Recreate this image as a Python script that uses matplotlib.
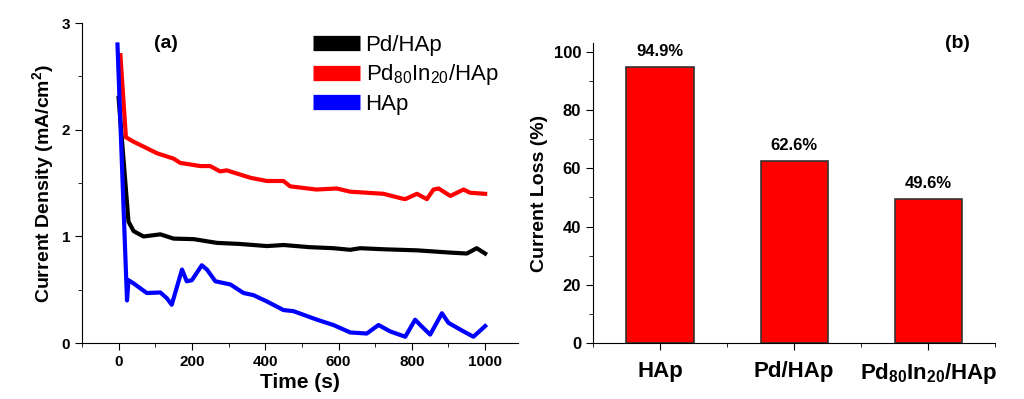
import numpy as np
import matplotlib
matplotlib.use("Agg")
import matplotlib.pyplot as plt
from matplotlib.ticker import MultipleLocator

plt.rcParams['font.family'] = ['Liberation Sans', 'DejaVu Sans']
plt.rcParams['mathtext.fontset'] = 'custom'
plt.rcParams['mathtext.rm'] = 'Liberation Sans'
plt.rcParams['mathtext.bf'] = 'Liberation Sans:bold'
plt.rcParams['mathtext.default'] = 'regular'

# (a) chronoamperometry curves
t_pd = [0, 27, 41, 68, 114, 150, 205, 268, 330, 405, 450, 520, 586, 632, 659, 723, 814, 900, 950, 977, 1000]
j_pd = [2.30, 1.14, 1.05, 1.00, 1.02, 0.98, 0.975, 0.94, 0.93, 0.91, 0.92, 0.90, 0.89, 0.875, 0.89, 0.88, 0.87, 0.85, 0.84, 0.89, 0.84]

t_pdin = [5, 20, 40, 105, 150, 168, 223, 250, 277, 295, 360, 405, 450, 468, 540, 595, 632, 677, 723, 768,
          782, 814, 841, 859, 873, 905, 941, 959, 1000]
j_pdin = [2.70, 1.93, 1.89, 1.78, 1.73, 1.69, 1.66, 1.66, 1.61, 1.62, 1.55, 1.52, 1.52, 1.47, 1.44, 1.45, 1.42,
          1.41, 1.40, 1.36, 1.35, 1.40, 1.35, 1.44, 1.45, 1.38, 1.44, 1.41, 1.40]

t_hap = [-3, 23, 27, 41, 77, 114, 132, 145, 173, 186, 200, 227, 241, 264, 305, 341, 368, 405, 450, 477, 541,
         586, 632, 677, 709, 741, 782, 809, 823, 850, 882, 900, 941, 968, 1000]
j_hap = [2.80, 0.40, 0.59, 0.56, 0.47, 0.475, 0.42, 0.36, 0.69, 0.58, 0.59, 0.73, 0.69, 0.58, 0.55, 0.47, 0.45,
         0.39, 0.31, 0.30, 0.22, 0.17, 0.10, 0.09, 0.17, 0.11, 0.06, 0.22, 0.17, 0.08, 0.28, 0.19, 0.11, 0.06, 0.16]

# (b) current loss
cats = ['HAp', 'Pd/HAp', r'Pd$_{80}$In$_{20}$/HAp']
loss = [94.9, 62.6, 49.6]

fig = plt.figure(figsize=(10.24, 3.99), dpi=100)
ax1 = fig.add_axes([0.080, 0.140, 0.426, 0.802])
ax2 = fig.add_axes([0.579, 0.140, 0.393, 0.752])

lw = 3.0
ax1.plot(t_pd, j_pd, color='black', lw=lw, label='Pd/HAp')
ax1.plot(t_pdin, j_pdin, color='#ff0000', lw=lw, label=r'Pd$_{80}$In$_{20}$/HAp')
ax1.plot(t_hap, j_hap, color='#0000ff', lw=lw, label='HAp')
ax1.set_xlim(-100, 1090)
ax1.set_ylim(0, 3)
ax1.xaxis.set_major_locator(MultipleLocator(200))
ax1.xaxis.set_minor_locator(MultipleLocator(100))
ax1.yaxis.set_major_locator(MultipleLocator(1))
ax1.yaxis.set_minor_locator(MultipleLocator(0.5))
for s in ['top', 'right']:
    ax1.spines[s].set_visible(False)
ax1.tick_params(axis='both', which='major', labelsize=11, length=5)
ax1.tick_params(axis='both', which='minor', length=3)
for lab in ax1.get_xticklabels() + ax1.get_yticklabels():
    lab.set_fontweight('bold')
ax1.set_xlabel('Time (s)', fontsize=15, fontweight='bold', labelpad=3)
ax1.set_ylabel('Current Density (mA/cm$^2$)', fontsize=14, fontweight='bold')
ax1.text(0.165, 0.935, '(a)', transform=ax1.transAxes, fontsize=14, fontweight='bold', ha='left', va='center')
leg = ax1.legend(loc='upper left', bbox_to_anchor=(0.51, 0.99), frameon=False, fontsize=16,
                 handlelength=2.1, handletextpad=0.25, labelspacing=0.28, borderaxespad=0)
for h in leg.get_lines():
    h.set_linewidth(11)
    h.set_solid_capstyle('butt')

x = np.arange(1, len(cats) + 1)
ax2.bar(x, loss, width=0.5, color='#ff0000', edgecolor='#333333', linewidth=1.2)
for xi, v in zip(x, loss):
    ax2.text(xi, v + 2.5, f'{v}%', ha='center', va='bottom', fontsize=12, fontweight='bold')
ax2.set_xlim(0.5, 3.5)
ax2.set_ylim(0, 103)
ax2.set_xticks(x)
ax2.set_xticklabels(cats, fontsize=15, fontweight='bold')
ax2.xaxis.set_minor_locator(MultipleLocator(1, offset=0.5))
ax2.yaxis.set_major_locator(MultipleLocator(20))
ax2.yaxis.set_minor_locator(MultipleLocator(10))
for s in ['top', 'right']:
    ax2.spines[s].set_visible(False)
ax2.tick_params(axis='both', which='major', labelsize=12, length=5)
ax2.tick_params(axis='x', which='major', labelsize=16, pad=8)
ax2.tick_params(axis='both', which='minor', length=3)
for lab in ax2.get_yticklabels():
    lab.set_fontweight('bold')
ax2.set_ylabel('Current Loss (%)', fontsize=14, fontweight='bold')
ax2.text(0.905, 1.0, '(b)', transform=ax2.transAxes, fontsize=14, fontweight='bold', ha='center', va='center')

fig.savefig('out.png', dpi=100)
